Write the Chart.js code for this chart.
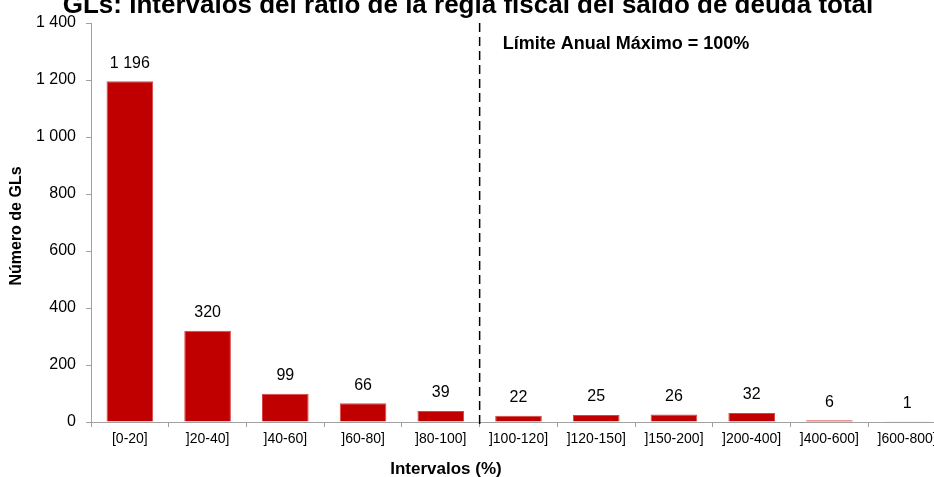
<!DOCTYPE html>
<html>
<head>
<meta charset="utf-8">
<script src="https://cdn.jsdelivr.net/npm/chart.js@4"></script>
<style>
  html, body { margin: 0; padding: 0; background: #fff; overflow: hidden; }
  #wrap { width: 950px; height: 477px; }
</style>
</head>
<body>
<div id="wrap"><canvas id="chart" width="950" height="477"></canvas></div>
<script>
const chartTitle = 'GLs: Intervalos del ratio de la regla fiscal del saldo de deuda total';
const xTitle = 'Intervalos (%)';
const yTitle = 'Número de GLs';
const categories = ['[0-20]', ']20-40]', ']40-60]', ']60-80]', ']80-100]', ']100-120]',
  ']120-150]', ']150-200]', ']200-400]', ']400-600]', ']600-800]'];
const counts = [1196, 320, 99, 66, 39, 22, 25, 26, 32, 6, 1];
const yTicks = [0, 200, 400, 600, 800, 1000, 1200, 1400];
const limitLabel = 'Límite Anual Máximo = 100%';
const limitAfterIndex = 4; // la línea va entre ]80-100] y ]100-120]

const FONT = '"Liberation Sans", Arial, sans-serif';
Chart.defaults.font.family = FONT;
Chart.defaults.color = '#000';

// separador de miles con espacio: 1 196
function fmt(v) {
  return String(v).replace(/\B(?=(\d{3})+(?!\d))/g, ' ');
}

const extras = {
  id: 'extras',
  afterDatasetsDraw(chart) {
    const ctx = chart.ctx;
    const area = chart.chartArea;
    const x = chart.scales.x;
    ctx.save();

    // etiquetas de valores
    ctx.font = '16px ' + FONT;
    ctx.fillStyle = '#000';
    ctx.textAlign = 'center';
    ctx.textBaseline = 'middle';
    chart.getDatasetMeta(0).data.forEach((bar, i) => {
      ctx.fillText(fmt(counts[i]), bar.x, bar.y - 18);
    });

    // línea de límite
    const lx = (x.getPixelForValue(limitAfterIndex) + x.getPixelForValue(limitAfterIndex + 1)) / 2;
    ctx.strokeStyle = '#000';
    ctx.lineWidth = 1.5;
    ctx.setLineDash([9, 5]);
    ctx.beginPath();
    ctx.moveTo(lx, area.top);
    ctx.lineTo(lx, area.bottom + 4);
    ctx.stroke();
    ctx.setLineDash([]);

    ctx.font = 'bold 18px ' + FONT;
    ctx.textAlign = 'left';
    ctx.fillText(limitLabel, lx + 23, area.top + 21);

    // títulos de ejes
    ctx.font = 'bold 17px ' + FONT;
    ctx.textAlign = 'center';
    ctx.fillText(xTitle, 446, 469);

    ctx.save();
    ctx.font = 'bold 16px ' + FONT;
    ctx.translate(17, 226);
    ctx.rotate(-Math.PI / 2);
    ctx.fillText(yTitle, 0, 0);
    ctx.restore();

    // título (cortado arriba como en el original)
    ctx.font = 'bold 26px ' + FONT;
    ctx.textAlign = 'center';
    ctx.textBaseline = 'alphabetic';
    ctx.fillText(chartTitle, 468, 13);
    ctx.restore();
  }
};

new Chart(document.getElementById('chart'), {
  type: 'bar',
  data: {
    labels: categories,
    datasets: [{
      data: counts,
      backgroundColor: '#C00000',
      borderColor: '#D64545',
      borderWidth: 1,
      barPercentage: 0.6,
      categoryPercentage: 1
    }]
  },
  plugins: [extras],
  options: {
    responsive: false,
    animation: false,
    devicePixelRatio: 1,
    layout: { padding: { top: 23, right: 4, left: 0, bottom: 0 } },
    plugins: { legend: { display: false }, tooltip: { enabled: false } },
    scales: {
      x: {
        grid: { display: true, drawOnChartArea: false, drawTicks: true, tickLength: 5, color: '#A0A0A0', offset: true },
        border: { color: '#A0A0A0', width: 1 },
        ticks: { font: { size: 14 }, maxRotation: 0, autoSkip: false, padding: 4 },
        afterFit(s) { s.height = 55; }
      },
      y: {
        min: 0,
        max: 1400,
        afterBuildTicks(s) { s.ticks = yTicks.map(v => ({ value: v })); },
        grid: { display: true, drawOnChartArea: false, drawTicks: true, tickLength: 5, color: '#A0A0A0' },
        border: { color: '#A0A0A0', width: 1 },
        ticks: { font: { size: 16 }, padding: 10, callback: v => fmt(v) },
        afterFit(s) { s.width = 91; }
      }
    }
  }
});
</script>
</body>
</html>
